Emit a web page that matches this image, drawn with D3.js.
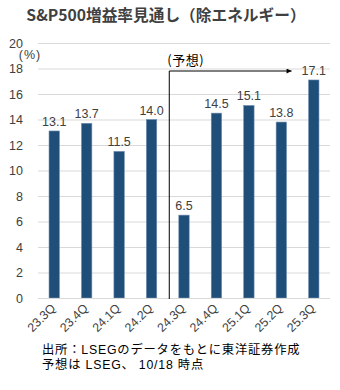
<!DOCTYPE html>
<html><head><meta charset="utf-8">
<script src="https://cdn.jsdelivr.net/npm/d3@7"></script>
<style>body{margin:0;background:#fff}svg{display:block}</style>
</head><body>
<script>
const categories = ["23.3Q","23.4Q","24.1Q","24.2Q","24.3Q","24.4Q","25.1Q","25.2Q","25.3Q"];
const values = [13.1, 13.7, 11.5, 14.0, 6.5, 14.5, 15.1, 13.8, 17.1];
const yTicks = [0,2,4,6,8,10,12,14,16,18,20];
const title = "S&P500増益率見通し（除エネルギー）";
const unitLabel = "(%)";
const forecastLabel = "(予想)";
const forecastStart = "24.3Q";
const forecastLevel = 18;
const notes = ["出所：LSEGのデータをもとに東洋証券作成", "予想は LSEG、 10/18 時点"];

const W = 340, H = 390;
const svg = d3.select("body").append("svg").attr("width", W).attr("height", H);
const fontLatin = "Liberation Sans, Arial, 'Noto Sans CJK JP', sans-serif";
const fontJP = "'Noto Sans CJK JP', sans-serif";

const x = d3.scaleBand().domain(categories).range([38, 330]).paddingInner(0.68).paddingOuter(0.34);
const y = d3.scaleLinear().domain([0, 20]).range([298, 43]);

svg.append("text").attr("x", 166).attr("y", 21).attr("text-anchor", "middle")
  .attr("font-family", fontJP).attr("font-weight", "bold").attr("font-size", 15.7)
  .attr("fill", "#404040").text(title);

// gridlines
svg.append("g").selectAll("line").data(yTicks).join("line")
  .attr("x1", 38).attr("x2", 330).attr("y1", d => y(d) + 0.5).attr("y2", d => y(d) + 0.5)
  .attr("stroke", "#d9d9d9").attr("stroke-width", 1);

// y axis labels
const yAxis = d3.axisLeft(y).tickValues(yTicks).tickSize(0).tickPadding(0);
const gy = svg.append("g").attr("transform", "translate(23,0)").call(yAxis);
gy.select(".domain").remove();
gy.selectAll("text").attr("font-family", fontLatin).attr("font-size", 12.5).attr("fill", "#404040");

svg.append("text").attr("x", 30).attr("y", 59).attr("text-anchor", "middle")
  .attr("font-family", fontLatin).attr("font-size", 12.5).attr("letter-spacing", 1).attr("fill", "#404040").text(unitLabel);

// bars
svg.append("g").selectAll("rect").data(values).join("rect")
  .attr("x", (d, i) => x(categories[i])).attr("width", x.bandwidth())
  .attr("y", d => y(d)).attr("height", d => y(0) - y(d))
  .attr("fill", "#1f4e79").attr("stroke", "#6f8fb0").attr("stroke-width", 0.6);

// value labels
svg.append("g").selectAll("text").data(values).join("text")
  .attr("x", (d, i) => x(categories[i]) + x.bandwidth() / 2)
  .attr("y", d => y(d) - 5).attr("text-anchor", "middle")
  .attr("font-family", fontLatin).attr("font-size", 12.5).attr("fill", "#404040")
  .text(d => d.toFixed(1));

// x axis
const xAxis = d3.axisBottom(x).tickSize(0).tickPadding(0);
const gx = svg.append("g").attr("transform", `translate(0,${y(0)})`).call(xAxis);
gx.select(".domain").attr("stroke", "#d9d9d9").attr("d", `M38,0.5H330`);
gx.selectAll("text").attr("font-family", fontLatin).attr("font-size", 12.3).attr("fill", "#404040")
  .attr("text-anchor", "end").attr("dy", 0)
  .attr("transform", "translate(2,11) rotate(-45)");

// forecast marker
const lineX = x(forecastStart) - x.step() * x.paddingInner() / 2 + 1.5;
const defs = svg.append("defs");
defs.append("marker").attr("id", "arr").attr("viewBox", "0 0 10 10").attr("refX", 10).attr("refY", 5)
  .attr("markerWidth", 7).attr("markerHeight", 5).attr("orient", "auto")
  .append("path").attr("d", "M0,0L10,5L0,10z").attr("fill", "#000");
svg.append("line").attr("x1", lineX).attr("x2", lineX).attr("y1", y(forecastLevel) + 2.5).attr("y2", y(0) + 1)
  .attr("stroke", "#000").attr("stroke-width", 1);
svg.append("line").attr("x1", lineX).attr("x2", x("25.3Q") - 17).attr("y1", y(forecastLevel) + 2.5).attr("y2", y(forecastLevel) + 2.5)
  .attr("stroke", "#000").attr("stroke-width", 1).attr("marker-end", "url(#arr)");
svg.append("text").attr("x", lineX - 2).attr("y", 65).attr("font-family", fontJP).attr("font-size", 13)
  .attr("letter-spacing", 0.5).attr("fill", "#000").text(forecastLabel);

// notes
svg.append("g").selectAll("text").data(notes).join("text")
  .attr("x", 42).attr("y", (d, i) => 354 + i * 14.5)
  .attr("font-family", fontLatin).attr("font-size", 12.3).attr("letter-spacing", 0.8).attr("fill", "#000").text(d => d);
</script>
</body></html>
